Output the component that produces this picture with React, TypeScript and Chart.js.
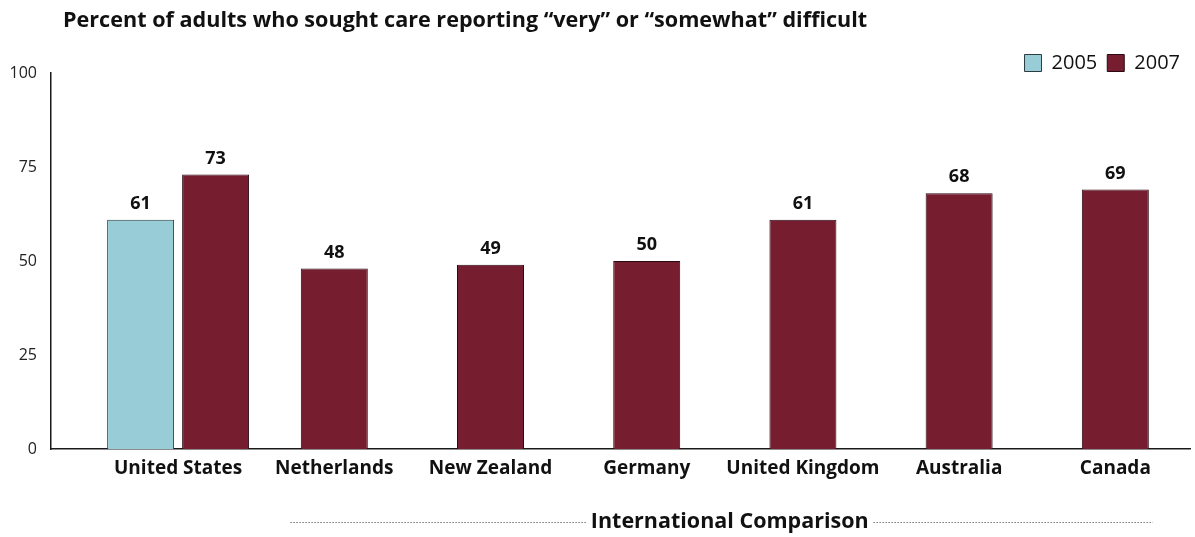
import { useEffect, useRef } from 'react';
import { Chart, registerables } from 'chart.js';

Chart.register(...registerables);

const categories = ['United States', 'Netherlands', 'New Zealand', 'Germany', 'United Kingdom', 'Australia', 'Canada'];
const seriesLabels = ['2005', '2007'];
const values2005: (number | null)[] = [61, null, null, null, null, null, null];
const values2007: (number | null)[] = [73, 48, 49, 50, 61, 68, 69];
const yTickValues = [0, 25, 50, 75, 100];
const titleText = 'Percent of adults who sought care reporting \u201cvery\u201d or \u201csomewhat\u201d difficult';
const groupLabel = 'International Comparison';

const FONT = '"Open Sans"';
const INK = '#111111';

const overlayPlugin = {
  id: 'overlay',
  afterDraw(chart: any) {
    const ctx = chart.ctx;
    const xs = chart.scales.x;
    ctx.save();
    // title
    ctx.fillStyle = INK;
    ctx.font = `bold 21.6px ${FONT}`;
    ctx.textAlign = 'left';
    ctx.textBaseline = 'middle';
    ctx.fillText(titleText, 63, 21);

    // value labels
    ctx.font = `bold 18px ${FONT}`;
    ctx.textAlign = 'center';
    ctx.textBaseline = 'bottom';
    chart.data.datasets.forEach((ds: any, di: number) => {
      const meta = chart.getDatasetMeta(di);
      meta.data.forEach((el: any, i: number) => {
        const v = ds.data[i].y;
        if (v === null || v === undefined) return;
        ctx.fillText(String(v), el.x, el.y - 7);
      });
    });

    // group label with dotted rules
    const step = xs.getPixelForValue(1) - xs.getPixelForValue(0);
    const left = xs.getPixelForValue(1) - step * 0.28;
    const right = xs.getPixelForValue(categories.length - 1) + step * 0.24;
    const y = 522;
    ctx.font = `bold 21.5px ${FONT}`;
    const tw = ctx.measureText(groupLabel).width;
    const cx = (left + right) / 2 + 8;
    ctx.textAlign = 'center';
    ctx.textBaseline = 'middle';
    ctx.fillText(groupLabel, cx, y);
    ctx.strokeStyle = '#333333';
    ctx.lineWidth = 1;
    ctx.setLineDash([1, 2]);
    ctx.beginPath();
    ctx.moveTo(left, y + 0.5);
    ctx.lineTo(cx - tw / 2 - 5, y + 0.5);
    ctx.moveTo(cx + tw / 2 + 5, y + 0.5);
    ctx.lineTo(right, y + 0.5);
    ctx.stroke();
    ctx.restore();
  },
};

export default function App() {
  const ref = useRef<HTMLCanvasElement | null>(null);

  useEffect(() => {
    document.body.style.margin = '0';
    if (!ref.current) return;
    const chart = new Chart(ref.current, {
      type: 'bar',
      data: {
        datasets: [
          {
            label: seriesLabels[0],
            data: categories.map((_, i) => ({ x: i, y: values2005[i] })) as any,
            backgroundColor: '#98CCD6',
            borderColor: '#2b3b3e',
            borderWidth: 1,
          },
          {
            label: seriesLabels[1],
            data: categories.map((_, i) => ({ x: i, y: values2007[i] })) as any,
            backgroundColor: '#761E30',
            borderColor: '#2a0a12',
            borderWidth: 1,
          },
        ],
      },
      options: {
        responsive: false,
        animation: false,
        layout: { padding: { left: 8, right: 5, top: 43, bottom: 0 } },
        datasets: {
          bar: {
            skipNull: true,
            categoryPercentage: 0.96,
            barPercentage: 0.893,
            maxBarThickness: 67,
          },
        },
        scales: {
          x: {
            type: 'linear',
            offset: false,
            grace: 0,
            bounds: 'data',
            min: -0.8137,
            max: 6.478,
            afterBuildTicks: (scale: any) => {
              scale.ticks = categories.map((_, i) => ({ value: i }));
            },
            afterFit: (scale: any) => {
              scale.height = 88;
            },
            ticks: {
              autoSkip: false,
              maxRotation: 0,
              padding: 8,
              color: INK,
              font: { family: FONT, size: 19, weight: 'bold' },
              callback: (v: any) => categories[v as number] ?? '',
            },
            grid: { display: false, drawTicks: false, offset: false },
            border: { display: true, color: '#1a1a1a', width: 1.5 },
          },
          y: {
            min: 0,
            max: 100,
            afterBuildTicks: (scale: any) => {
              scale.ticks = yTickValues.map((v) => ({ value: v }));
            },
            afterFit: (scale: any) => {
              scale.width = 43;
            },
            ticks: {
              padding: 14,
              color: '#222222',
              font: { family: FONT, size: 16 },
            },
            grid: { display: false, drawTicks: false },
            border: { display: true, color: '#1a1a1a', width: 1.5 },
          },
        },
        plugins: {
          title: { display: false },
          tooltip: { enabled: false },
          legend: {
            display: true,
            position: 'top',
            align: 'end',
            maxHeight: 30,
            labels: {
              boxWidth: 17,
              boxHeight: 17,
              padding: 10,
              color: INK,
              font: { family: FONT, size: 20 },
            },
          },
        },
      },
      plugins: [overlayPlugin],
    } as any);
    return () => chart.destroy();
  }, []);

  return (
    <div style={{ width: 1195, height: 537 }}>
      <canvas ref={ref} width={1195} height={537} />
    </div>
  );
}
